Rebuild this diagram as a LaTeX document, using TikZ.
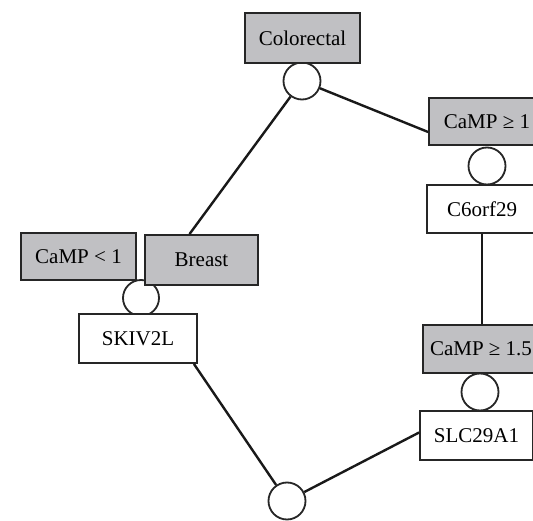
\documentclass[tikz,border=0pt]{standalone}
\usepackage{fontspec}
\setmainfont{Liberation Serif}
\begin{document}
\begin{tikzpicture}[x=1pt,y=-1pt,
  box/.style={draw=black!85, line width=1.8pt, rectangle, inner sep=0pt, font=\fontsize{21}{24}\selectfont},
  graybox/.style={box, fill=boxgray},
  whitebox/.style={box, fill=white},
  joint/.style={draw=black!85, line width=1.8pt, circle, fill=white, inner sep=0pt, minimum size=37pt},
  link/.style={draw=black!90, line width=2.4pt}]
\definecolor{boxgray}{RGB}{192,192,195}
\clip (0,0) rectangle (533,521);
\fill[white] (0,0) rectangle (533,521);
% joints
\node[joint] (c1) at (302,81) {};
\node[joint] (c2) at (487,166) {};
\node[joint] (c3) at (480,392) {};
\node[joint] (c4) at (287,501) {};
\node[joint, minimum size=36pt] (c5) at (141,298) {};
% boxes
\node[graybox, minimum width=115pt, minimum height=50pt] (colo) at (302.5,38) {Colorectal};
\node[graybox, minimum width=116pt, minimum height=47pt] (camp1) at (487,121.5) {CaMP ≥ 1};
\node[whitebox, minimum width=110pt, minimum height=48pt] (c6) at (482,209) {C6orf29};
\node[graybox, minimum width=116pt, minimum height=48pt] (camp15) at (481,349) {CaMP ≥ 1.5};
\node[whitebox, minimum width=113pt, minimum height=49pt] (slc) at (476.5,435.5) {SLC29A1};
\node[graybox, minimum width=115pt, minimum height=47pt] (camplt) at (78.5,256.5) {CaMP < 1};
\node[graybox, minimum width=113pt, minimum height=50pt] (breast) at (201.5,260) {Breast};
\node[whitebox, minimum width=118pt, minimum height=49pt] (skiv) at (138,338.5) {SKIV2L};
% links
\draw[link] (c1) -- ([xshift=-12pt]breast.north);
\draw[link] (c1) -- ([yshift=-10.5pt]camp1.west);
\draw[link] (c6.south) -- (c6.south |- camp15.north);
\draw[link] ([xshift=-4pt]skiv.south east) -- (c4);
\draw[link] ([yshift=3pt]slc.west) -- (c4);
\end{tikzpicture}
\end{document}
